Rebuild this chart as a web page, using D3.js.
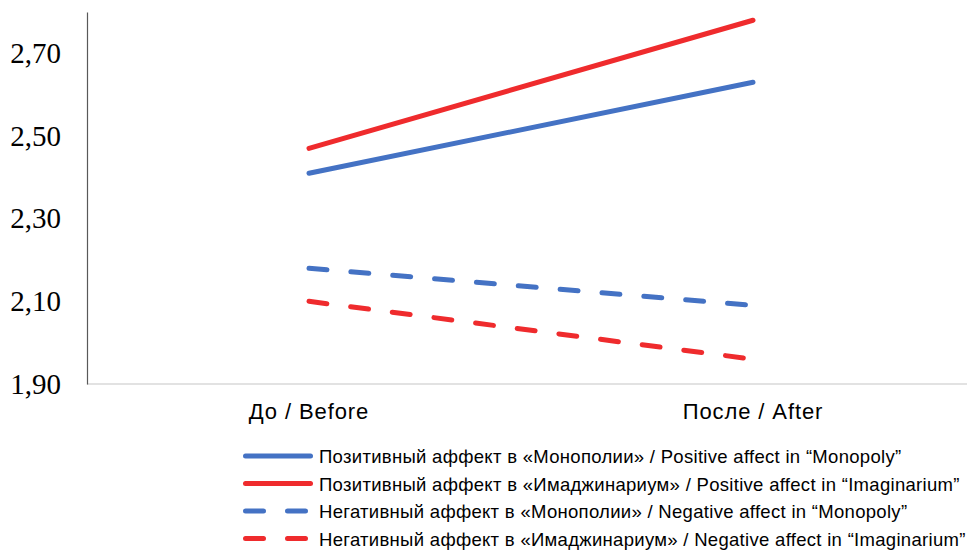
<!DOCTYPE html>
<html>
<head>
<meta charset="utf-8">
<script src="https://cdn.jsdelivr.net/npm/d3@7"></script>
<style>
  html, body { margin: 0; padding: 0; background: #fff; }
  svg { display: block; }
</style>
</head>
<body>
<svg id="chart" width="967" height="550"></svg>
<script>
const categories = ["До / Before", "После / After"];
const seriesNames = [
  "Позитивный аффект в «Монополии» / Positive affect in “Monopoly”",
  "Позитивный аффект в «Имаджинариум» / Positive affect in “Imaginarium”",
  "Негативный аффект в «Монополии» / Negative affect in “Monopoly”",
  "Негативный аффект в «Имаджинариум» / Negative affect in “Imaginarium”"
];
const posMonopoly = [2.41, 2.63];
const posImaginarium = [2.47, 2.78];
const negMonopoly = [2.18, 2.09];
const negImaginarium = [2.10, 1.96];
const yTicks = [1.90, 2.10, 2.30, 2.50, 2.70];

const seriesValues = [posMonopoly, posImaginarium, negMonopoly, negImaginarium];
const colors = ["#4472C4", "#EF2B2D", "#4472C4", "#EF2B2D"];
const dashed = [false, false, true, true];

const svg = d3.select("#chart");
const mLeft = 87, mRight = 975, mTop = 12, mBottom = 384;

const x = d3.scaleBand().domain(categories).range([mLeft, mRight]).padding(0);
const y = d3.scaleLinear().domain([1.9, 2.8]).range([mBottom, mTop]);

// x axis line
svg.append("line")
  .attr("x1", mLeft).attr("x2", 967)
  .attr("y1", mBottom).attr("y2", mBottom)
  .attr("stroke", "#d9d9d9").attr("stroke-width", 1.5);

// y axis
const yAxis = d3.axisLeft(y).tickValues(yTicks).tickSize(0).tickPadding(26)
  .tickFormat(d => d3.format(".2f")(d).replace(".", ","));
const gy = svg.append("g").attr("transform", `translate(${mLeft},0)`).call(yAxis);
gy.select(".domain").attr("stroke", "#595959").attr("stroke-width", 1.2);
gy.selectAll("text")
  .attr("font-family", "'Liberation Serif', 'Times New Roman', serif")
  .attr("font-size", 29).attr("fill", "#000");

// x axis labels
const xAxis = d3.axisBottom(x).tickSize(0).tickPadding(19);
const gx = svg.append("g").attr("transform", `translate(0,${mBottom})`).call(xAxis);
gx.select(".domain").remove();
gx.selectAll("text")
  .attr("font-family", "'Liberation Sans', Arial, sans-serif")
  .attr("font-size", 22).attr("letter-spacing", "0.9px").attr("fill", "#000");

// lines
const line = d3.line()
  .x((d, i) => x(categories[i]) + x.bandwidth() / 2)
  .y(d => y(d));

seriesValues.forEach((vals, k) => {
  svg.append("path")
    .datum(vals)
    .attr("d", line)
    .attr("fill", "none")
    .attr("stroke", colors[k])
    .attr("stroke-width", 5)
    .attr("stroke-linecap", "round")
    .attr("stroke-dasharray", dashed[k] ? "18,24" : null);
});

// legend
const lg = svg.append("g");
seriesNames.forEach((name, k) => {
  const yy = 456 + k * 27.5;
  lg.append("line")
    .attr("x1", 245.5).attr("x2", 310.5)
    .attr("y1", yy).attr("y2", yy)
    .attr("stroke", colors[k]).attr("stroke-width", 5)
    .attr("stroke-linecap", "round")
    .attr("stroke-dasharray", dashed[k] ? "18,24" : null);
  lg.append("text")
    .attr("x", 319).attr("y", yy + 7)
    .attr("font-family", "'Liberation Sans', Arial, sans-serif")
    .attr("font-size", 18.5).attr("letter-spacing", "0.3px").attr("fill", "#000")
    .text(name);
});
</script>
</body>
</html>
